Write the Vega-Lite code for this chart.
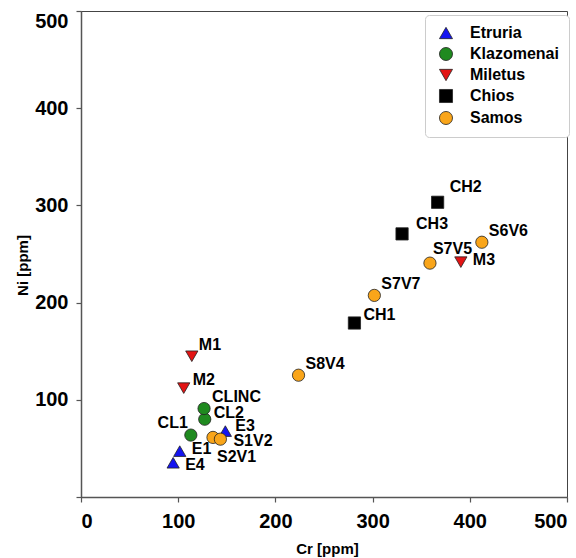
{
  "$schema": "https://vega.github.io/schema/vega-lite/v6.json",
  "width": 486,
  "height": 486,
  "autosize": {"type": "none"},
  "padding": {"left": 81, "top": 11, "right": 9, "bottom": 61},
  "background": "white",
  "config": {
    "font": "Liberation Sans",
    "view": {"stroke": "#444", "strokeWidth": 1},
    "axis": {
      "grid": false,
      "domainColor": "#555",
      "domainWidth": 1.5,
      "tickColor": "#555",
      "tickWidth": 1.2,
      "tickSize": 5,
      "labelFont": "Liberation Sans",
      "labelFontSize": 20,
      "labelFontWeight": "bold",
      "labelColor": "#000",
      "titleFont": "Liberation Sans",
      "titleFontSize": 15,
      "titleFontWeight": "bold",
      "titleColor": "#000"
    }
  },
  "data": {
    "values": [
      {"name": "E4", "group": "Etruria", "Cr": 94.8, "Ni": 35.2},
      {"name": "E1", "group": "Etruria", "Cr": 101.6, "Ni": 47.2},
      {"name": "E3", "group": "Etruria", "Cr": 148.5, "Ni": 67.8},
      {"name": "CL1", "group": "Klazomenai", "Cr": 113, "Ni": 63.7},
      {"name": "CL2", "group": "Klazomenai", "Cr": 127.3, "Ni": 80},
      {"name": "CLINC", "group": "Klazomenai", "Cr": 126.6, "Ni": 91},
      {"name": "M1", "group": "Miletus", "Cr": 114, "Ni": 144.8},
      {"name": "M2", "group": "Miletus", "Cr": 105.7, "Ni": 112},
      {"name": "M3", "group": "Miletus", "Cr": 390.8, "Ni": 241.6},
      {"name": "CH1", "group": "Chios", "Cr": 281.3, "Ni": 179},
      {"name": "CH3", "group": "Chios", "Cr": 330.3, "Ni": 270.7},
      {"name": "CH2", "group": "Chios", "Cr": 366.9, "Ni": 303.2},
      {"name": "S2V1", "group": "Samos", "Cr": 135.8, "Ni": 61.3},
      {"name": "S1V2", "group": "Samos", "Cr": 143.4, "Ni": 59.5},
      {"name": "S8V4", "group": "Samos", "Cr": 223.8, "Ni": 125.3},
      {"name": "S7V7", "group": "Samos", "Cr": 301.8, "Ni": 207.4},
      {"name": "S7V5", "group": "Samos", "Cr": 359, "Ni": 240.6},
      {"name": "S6V6", "group": "Samos", "Cr": 412.4, "Ni": 262.1}
    ]
  },
  "encoding": {
    "x": {
      "field": "Cr", "type": "quantitative",
      "scale": {"domain": [0, 500], "nice": false, "zero": false},
      "axis": {
        "title": "Cr [ppm]",
        "values": [0, 100, 200, 300, 400, 500],
        "labelFlush": true,
        "labelPadding": 9,
        "titleAnchor": null,
        "titleX": 246,
        "titleY": 56,
        "titleBaseline": "alphabetic",
        "titleAlign": "center"
      }
    },
    "y": {
      "field": "Ni", "type": "quantitative",
      "scale": {"domain": [0, 500], "nice": false, "zero": false},
      "axis": {
        "title": "Ni [ppm]",
        "values": [0, 100, 200, 300, 400, 500],
        "labelExpr": "datum.value == 0 ? '' : datum.label",
        "labelFlush": true,
        "labelPadding": 8,
        "titleAnchor": null,
        "titleX": -54,
        "titleY": 254,
        "titleAngle": -90,
        "titleAlign": "center",
        "titleBaseline": "alphabetic"
      }
    }
  },
  "layer": [
    {
      "mark": {"type": "point", "filled": true, "opacity": 1, "stroke": "#222", "strokeWidth": 0.8, "size": 150},
      "encoding": {
        "fill": {
          "field": "group", "type": "nominal",
          "scale": {
            "domain": ["Etruria", "Klazomenai", "Miletus", "Chios", "Samos"],
            "range": ["#1414f0", "#1f8a1f", "#e31414", "#000000", "#f9a51a"]
          },
          "legend": {
            "title": null,
            "orient": "none",
            "legendX": 344,
            "legendY": 4,
            "padding": 10,
            "symbolOffset": 3,
            "symbolSize": 170,
            "symbolStrokeWidth": 0.8,
            "symbolStrokeColor": "#222",
            "labelFontSize": 16,
            "labelFontWeight": "bold",
            "labelFont": "Liberation Sans",
            "labelColor": "#000",
            "labelOffset": 16,
            "rowPadding": 4,
            "strokeColor": "#cccccc",
            "fillColor": "white",
            "cornerRadius": 4
          }
        },
        "shape": {
          "field": "group", "type": "nominal",
          "scale": {
            "domain": ["Etruria", "Klazomenai", "Miletus", "Chios", "Samos"],
            "range": ["triangle-up", "circle", "triangle-down", "square", "circle"]
          },
          "legend": {
            "title": null,
            "orient": "none",
            "legendX": 344,
            "legendY": 4
          }
        }
      }
    },
    {
      "transform": [{"filter": {"field": "name", "oneOf": ["S6V6", "S7V7", "S8V4", "M1"]}}],
      "mark": {"type": "text", "align": "left", "baseline": "middle", "dx": 7, "dy": -11, "fontSize": 16, "fontWeight": "bold", "font": "Liberation Sans", "color": "#000"},
      "encoding": {"text": {"field": "name"}}
    },
    {
      "transform": [{"filter": {"field": "name", "oneOf": ["CLINC"]}}],
      "mark": {"type": "text", "align": "left", "baseline": "middle", "dx": 8, "dy": -12, "fontSize": 16, "fontWeight": "bold", "font": "Liberation Sans", "color": "#000"},
      "encoding": {"text": {"field": "name"}}
    },
    {
      "transform": [{"filter": {"field": "name", "oneOf": ["CH2"]}}],
      "mark": {"type": "text", "align": "left", "baseline": "middle", "dx": 12, "dy": -15, "fontSize": 16, "fontWeight": "bold", "font": "Liberation Sans", "color": "#000"},
      "encoding": {"text": {"field": "name"}}
    },
    {
      "transform": [{"filter": {"field": "name", "oneOf": ["CH3"]}}],
      "mark": {"type": "text", "align": "left", "baseline": "middle", "dx": 14, "dy": -10, "fontSize": 16, "fontWeight": "bold", "font": "Liberation Sans", "color": "#000"},
      "encoding": {"text": {"field": "name"}}
    },
    {
      "transform": [{"filter": {"field": "name", "oneOf": ["M2", "CH1"]}}],
      "mark": {"type": "text", "align": "left", "baseline": "middle", "dx": 9, "dy": -8, "fontSize": 16, "fontWeight": "bold", "font": "Liberation Sans", "color": "#000"},
      "encoding": {"text": {"field": "name"}}
    },
    {
      "transform": [{"filter": {"field": "name", "oneOf": ["CL2"]}}],
      "mark": {"type": "text", "align": "left", "baseline": "middle", "dx": 9, "dy": -6, "fontSize": 16, "fontWeight": "bold", "font": "Liberation Sans", "color": "#000"},
      "encoding": {"text": {"field": "name"}}
    },
    {
      "transform": [{"filter": {"field": "name", "oneOf": ["M3", "E1"]}}],
      "mark": {"type": "text", "align": "left", "baseline": "middle", "dx": 12, "dy": -2, "fontSize": 16, "fontWeight": "bold", "font": "Liberation Sans", "color": "#000"},
      "encoding": {"text": {"field": "name"}}
    },
    {
      "transform": [{"filter": {"field": "name", "oneOf": ["E4"]}}],
      "mark": {"type": "text", "align": "left", "baseline": "middle", "dx": 12, "dy": 2, "fontSize": 16, "fontWeight": "bold", "font": "Liberation Sans", "color": "#000"},
      "encoding": {"text": {"field": "name"}}
    },
    {
      "transform": [{"filter": {"field": "name", "oneOf": ["E3"]}}],
      "mark": {"type": "text", "align": "left", "baseline": "middle", "dx": 10, "dy": -5, "fontSize": 16, "fontWeight": "bold", "font": "Liberation Sans", "color": "#000"},
      "encoding": {"text": {"field": "name"}}
    },
    {
      "transform": [{"filter": {"field": "name", "oneOf": ["S7V5"]}}],
      "mark": {"type": "text", "align": "left", "baseline": "middle", "dx": 3, "dy": -14, "fontSize": 16, "fontWeight": "bold", "font": "Liberation Sans", "color": "#000"},
      "encoding": {"text": {"field": "name"}}
    },
    {
      "transform": [{"filter": {"field": "name", "oneOf": ["CL1"]}}],
      "mark": {"type": "text", "align": "right", "baseline": "middle", "dx": -3, "dy": -12, "fontSize": 16, "fontWeight": "bold", "font": "Liberation Sans", "color": "#000"},
      "encoding": {"text": {"field": "name"}}
    },
    {
      "transform": [{"filter": {"field": "name", "oneOf": ["S1V2"]}}],
      "mark": {"type": "text", "align": "left", "baseline": "middle", "dx": 13, "dy": 2, "fontSize": 16, "fontWeight": "bold", "font": "Liberation Sans", "color": "#000"},
      "encoding": {"text": {"field": "name"}}
    },
    {
      "transform": [{"filter": {"field": "name", "oneOf": ["S2V1"]}}],
      "mark": {"type": "text", "align": "left", "baseline": "middle", "dx": 4, "dy": 20, "fontSize": 16, "fontWeight": "bold", "font": "Liberation Sans", "color": "#000"},
      "encoding": {"text": {"field": "name"}}
    }
  ]
}
